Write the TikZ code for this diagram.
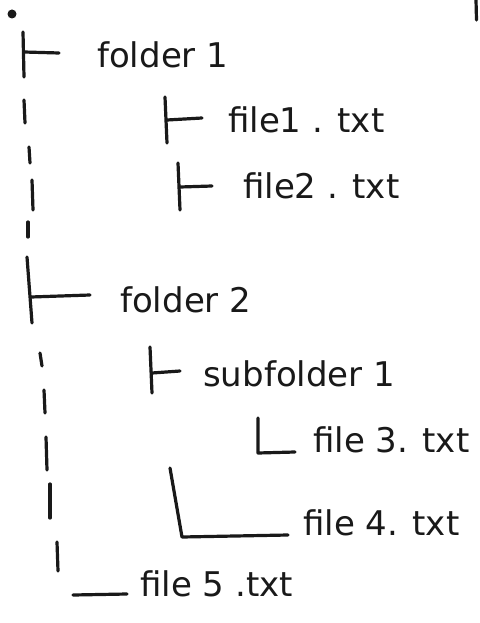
\documentclass[tikz,border=0pt]{standalone}
\usepackage{fontspec}
\setmainfont{DejaVu Sans}
\begin{document}
\begin{tikzpicture}[x=1pt,y=-1pt,
  ink/.style={line width=3.2pt,line cap=round,line join=round,black!90},
  lbl/.style={anchor=west,inner sep=0pt,font=\fontsize{34}{36}\selectfont,text=black!90}]
\useasboundingbox[fill=white] (0,0) rectangle (479,623);

% root dot and paper edge
\fill[black!90] (12,14) circle [radius=4.5pt];
\draw[ink] (476,0) -- (476.5,20);

% folder 1 and its files
\node[lbl] (f1) at (97,55) {folder 1};
\draw[ink] (23,32) -- (24,77);
\draw[ink] (24,52) -- (59,53);

\node[lbl] (a1) at (228,120) {file1 . txt};
\draw[ink] (165,97) -- (167,143);
\draw[ink] (167,120) -- (202,118);

\node[lbl] (a2) at (243,186) {file2 . txt};
\draw[ink] (178,163) -- (180,210);
\draw[ink] (180,187) -- (212,186);

% dashed trunk between the two folders
\draw[ink] (24,100) -- (25,123);
\draw[ink] (29,147) -- (30,163);
\draw[ink] (32,180) -- (33,210);
\draw[ink] (28,222) -- (28,237);

% folder 2
\node[lbl] (f2) at (120,300) {folder 2};
\draw[ink] (27,257) -- (32,323);
\draw[ink] (31,297) -- (90,295);

\node[lbl] (s1) at (203,374) {subfolder 1};
\draw[ink] (150,347) -- (152,393);
\draw[ink] (152,373) -- (180,371);

\node[lbl] (a3) at (313,440) {file 3. txt};
\draw[ink] (258,418) -- (258,453) -- (295,452);

\node[lbl] (a4) at (303,523) {file 4. txt};
\draw[ink] (170,468) -- (182,537) -- (288,535);

% dashed trunk down to file 5
\draw[ink] (40,353) -- (42,366);
\draw[ink] (44,390) -- (45,413);
\draw[ink] (46,437) -- (47,470);
\draw[ink] (50,484) -- (50,518);
\draw[ink] (57,542) -- (58,571);

\node[lbl] (a5) at (140,584) {file 5 .txt};
\draw[ink] (73,595) -- (127,594);
\end{tikzpicture}
\end{document}
